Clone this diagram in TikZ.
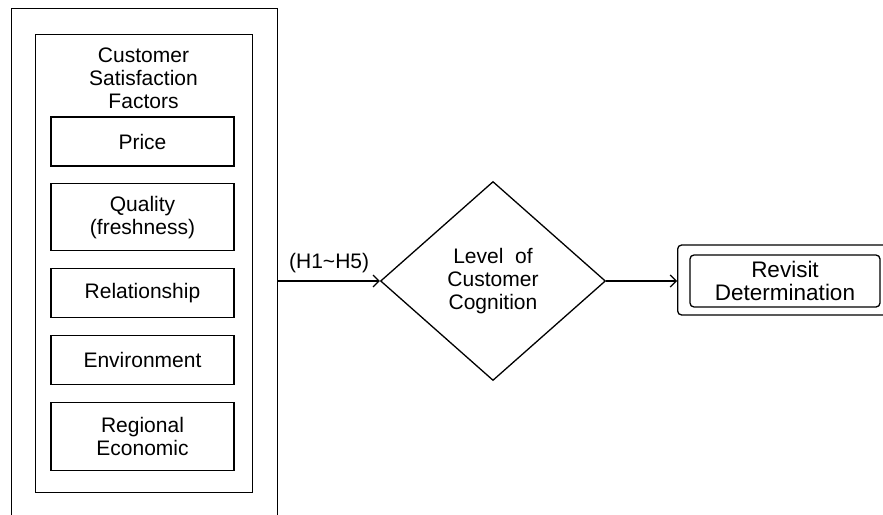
\documentclass[tikz,border=0pt]{standalone}
\usepackage{fontspec}
\setmainfont{Liberation Sans}
\usetikzlibrary{shapes.geometric,arrows.meta,positioning}

\begin{document}
\begin{tikzpicture}[
    x=1pt, y=-1pt,
    node distance=16.5pt,
    every node/.style={font=\fontsize{21}{23}\selectfont},
    frame/.style={rectangle, draw, line width=1.4pt, inner sep=0pt},
    factor/.style={rectangle, draw, line width=1.3pt, minimum width=183pt, minimum height=49pt, align=center, inner sep=0pt},
    rbox/.style={rectangle, draw, line width=1.3pt, rounded corners=4pt, align=center, inner sep=0pt},
    arrow/.style={-{Straight Barb[length=6pt,width=12pt,line width=1.2pt]}, line width=1.3pt}
]
    \useasboundingbox (0,0) rectangle (883,514);
    \clip (0,0) rectangle (883,514);

    % Containers
    \node[frame, minimum width=266pt, minimum height=540pt, anchor=north west] (outer) at (11,8) {};
    \node[frame, minimum width=217pt, minimum height=458pt, anchor=north west] (factors) at (35,34) {};
    \node[align=center] (title) at (143.5,78) {Customer\\Satisfaction\\Factors};

    % Factors
    \node[factor] (price) at (142.5,141.5) {Price};
    \node[factor, minimum height=67pt, below=of price] (quality) {Quality\\(freshness)};
    \node[factor, below=of quality] (relation) {Relationship};
    \node[factor, below=of relation] (environ) {Environment};
    \node[factor, minimum height=68pt, below=of environ] (regional) {Regional\\Economic};

    % Cognition and revisit
    \node[diamond, draw, line width=1.3pt, minimum width=225pt, minimum height=199pt, aspect=1.13, inner sep=0pt, align=center] (cognition) at (493,281) {Level\ \ of\\Customer\\Cognition};
    \node[rbox, minimum width=240pt, minimum height=70pt, anchor=west] (revisitframe) at (677,280) {};
    \node[rbox, minimum width=190pt, minimum height=52pt, font=\fontsize{22.5}{23}\selectfont] (revisit) at (785,281) {Revisit\\Determination};

    % Arrows
    \draw[arrow] (outer.east |- cognition.west) -- node[above=4pt] (hyp) {(H1\textasciitilde H5)} (cognition.west);
    \draw[arrow] (cognition.east) -- (cognition.east -| revisitframe.west);
\end{tikzpicture}
\end{document}
